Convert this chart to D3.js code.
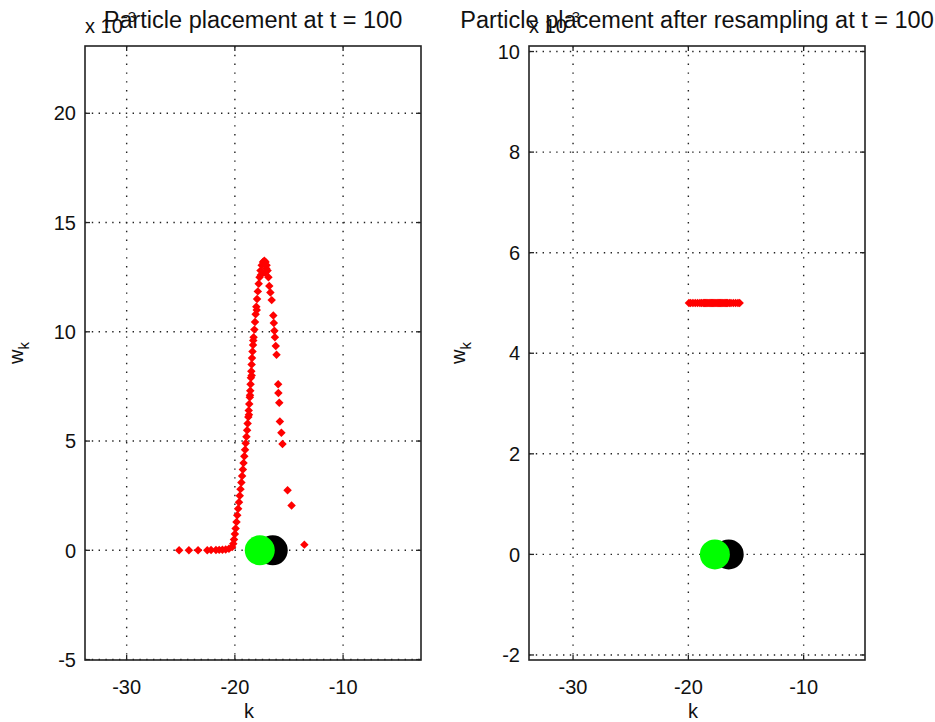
<!DOCTYPE html>
<html>
<head>
<meta charset="utf-8">
<script src="https://cdn.jsdelivr.net/npm/d3@7"></script>
<style>
  body { margin: 0; background: #fff; }
  svg text { font-family: "Liberation Sans", Arial, Helvetica, sans-serif; fill: #111; }
</style>
</head>
<body>
<svg id="chart" width="935" height="722"></svg>
<script>
// particle weights are in units of 10^-3
var particleK = [
  -25.15, -24.25, -23.4, -22.55, -22.2, -21.75, -21.45, -21.15, -20.85, -20.55,
  -20.25, -20.15, -20.08, -20.0, -19.93, -19.85, -19.78, -19.7, -19.62, -19.55,
  -19.48, -19.4, -19.33, -19.26, -19.2, -19.13, -19.06, -19.0, -18.93, -18.87,
  -18.82, -18.76, -18.72, -18.67, -18.62, -18.58, -18.55, -18.52, -18.48, -18.45,
  -18.42, -18.37, -18.32, -18.27, -18.2, -18.14, -18.08, -18.02, -17.95, -17.88,
  -17.8, -17.72, -17.63, -17.52, -17.4, -17.28, -17.17, -17.07, -16.98, -16.9,
  -16.82, -16.72, -18.7, -18.6, -18.45, -18.3, -17.98, -17.6, -17.1, -17.2,
  -16.6, -16.45, -16.4, -16.35, -16.3, -16.22, -16.15, -16.0, -15.98, -15.9,
  -15.84, -15.7, -15.6, -15.13, -14.76, -13.58
];
var particleW = [
  0, 0, 0, 0, 0.01, 0.01, 0.02, 0.03, 0.04, 0.07,
  0.15, 0.3, 0.5, 0.75, 1.0, 1.3, 1.6, 1.9, 2.2, 2.5,
  2.8, 3.1, 3.4, 3.7, 4.0, 4.3, 4.6, 4.9, 5.2, 5.5,
  5.8, 6.1, 6.4, 6.7, 7.0, 7.3, 7.6, 7.9, 8.2, 8.5,
  8.8, 9.1, 9.4, 9.75, 10.1, 10.45, 10.8, 11.15, 11.5, 11.85,
  12.2, 12.5, 12.8, 13.05, 13.2, 13.25, 13.2, 13.05, 12.8, 12.5,
  12.1, 11.8, 6.2, 7.1, 8.0, 9.6, 11.0, 12.6, 12.9, 12.7,
  11.45, 10.75, 10.4, 10.05, 9.75, 9.35, 8.95, 7.6, 7.2, 6.75,
  5.9, 5.38, 4.87, 2.75, 2.05, 0.26
];

// after resampling every particle has weight 1/200
var resampledK = [
  -19.95, -19.8, -19.6, -19.4, -19.2, -19.0, -18.85, -18.7, -18.6, -18.5,
  -18.4, -18.3, -18.2, -18.1, -18.0, -17.9, -17.8, -17.7, -17.6, -17.5,
  -17.4, -17.3, -17.2, -17.1, -17.0, -16.9, -16.8, -16.7, -16.6, -16.45,
  -16.3, -16.1, -15.9, -15.7, -15.55
];
var resampledW = resampledK.map(function() { return 5; });

var trueK = -16.5;    // black
var estimateK = -17.7; // green

var kTicks = [-30, -20, -10];
var wTicksLeft = [-5, 0, 5, 10, 15, 20];
var wTicksRight = [-2, 0, 2, 4, 6, 8, 10];

var kLimitsLeft = [-33.85, -2.8];
var kLimitsRight = [-33.82, -4.68];
var wLimitsLeft = [-5.02, 23.08];
var wLimitsRight = [-2.1, 10.11];

var svg = d3.select("#chart");

function renderPanel(opt) {
  var left = opt.left, top = 46, width = 336, height = 614;

  var g = svg.append("g")
    .attr("transform", "translate(" + left + "," + top + ")");

  var x = d3.scaleLinear().domain(opt.kLim).range([0, width]);
  var y = d3.scaleLinear().domain(opt.wLim).range([height, 0]);

  // dotted grid
  g.selectAll(".vgrid").data(opt.kTicks).enter().append("line")
    .attr("x1", function(d) { return x(d); })
    .attr("x2", function(d) { return x(d); })
    .attr("y1", 0).attr("y2", height)
    .attr("stroke", "#222").attr("stroke-width", 1.4)
    .attr("stroke-dasharray", "1.4,7.4");
  g.selectAll(".hgrid").data(opt.wTicks).enter().append("line")
    .attr("y1", function(d) { return y(d); })
    .attr("y2", function(d) { return y(d); })
    .attr("x1", 0).attr("x2", width)
    .attr("stroke", "#222").attr("stroke-width", 1.4)
    .attr("stroke-dasharray", "1.4,5.4");

  // inside ticks on all four sides
  var tl = 5;
  opt.kTicks.forEach(function(d) {
    g.append("line").attr("x1", x(d)).attr("x2", x(d)).attr("y1", height).attr("y2", height - tl)
      .attr("stroke", "#222").attr("stroke-width", 1.3);
    g.append("line").attr("x1", x(d)).attr("x2", x(d)).attr("y1", 0).attr("y2", tl)
      .attr("stroke", "#222").attr("stroke-width", 1.3);
  });
  opt.wTicks.forEach(function(d) {
    g.append("line").attr("y1", y(d)).attr("y2", y(d)).attr("x1", 0).attr("x2", tl)
      .attr("stroke", "#222").attr("stroke-width", 1.3);
    g.append("line").attr("y1", y(d)).attr("y2", y(d)).attr("x1", width).attr("x2", width - tl)
      .attr("stroke", "#222").attr("stroke-width", 1.3);
  });

  // tick labels
  g.selectAll(".klab").data(opt.kTicks).enter().append("text")
    .attr("x", function(d) { return x(d); })
    .attr("y", height + 34)
    .attr("text-anchor", "middle")
    .style("font-size", "20px")
    .text(function(d) { return d; });
  g.selectAll(".wlab").data(opt.wTicks).enter().append("text")
    .attr("x", -9)
    .attr("y", function(d) { return y(d); })
    .attr("dy", "0.36em")
    .attr("text-anchor", "end")
    .style("font-size", "20px")
    .text(function(d) { return d; });

  // particles
  var diamond = d3.symbol().type(d3.symbolSquare).size(36);
  g.selectAll(".pt").data(d3.zip(opt.pk, opt.pw)).enter().append("path")
    .attr("d", diamond)
    .attr("transform", function(d) { return "translate(" + x(d[0]) + "," + y(d[1]) + ") rotate(45)"; })
    .attr("fill", "#ff0000");

  // true state and estimate
  g.append("circle").attr("cx", x(trueK)).attr("cy", y(0)).attr("r", 15).attr("fill", "#000");
  g.append("circle").attr("cx", x(estimateK)).attr("cy", y(0)).attr("r", 15).attr("fill", "#00ff00");

  // box
  g.append("rect").attr("x", 0).attr("y", 0).attr("width", width).attr("height", height)
    .attr("fill", "none").attr("stroke", "#222").attr("stroke-width", 1.6);

  // labels
  g.append("text")
    .attr("x", width / 2 - 4).attr("y", height + 58)
    .attr("text-anchor", "middle")
    .style("font-size", "20px")
    .text("k");

  var yl = g.append("text")
    .attr("transform", "translate(" + (opt.ylabX - left) + "," + (height / 2) + ") rotate(-90)")
    .attr("text-anchor", "middle")
    .style("font-size", "20px");
  yl.append("tspan").text("w");
  yl.append("tspan").attr("dy", 6).style("font-size", "15px").text("k");

  var ex = g.append("text")
    .attr("x", 0).attr("y", -13)
    .style("font-size", "20px");
  ex.append("tspan").text("x 10");
  ex.append("tspan").attr("dy", -11).style("font-size", "15px").text("-3");

  g.append("text")
    .attr("x", width / 2).attr("y", -18)
    .attr("text-anchor", "middle")
    .style("font-size", "23.5px")
    .text(opt.title);
}

renderPanel({
  left: 85, kLim: kLimitsLeft, wLim: wLimitsLeft, kTicks: kTicks, wTicks: wTicksLeft,
  pk: particleK, pw: particleW, ylabX: 23,
  title: "Particle placement at t = 100"
});
renderPanel({
  left: 529, kLim: kLimitsRight, wLim: wLimitsRight, kTicks: kTicks, wTicks: wTicksRight,
  pk: resampledK, pw: resampledW, ylabX: 465,
  title: "Particle placement after resampling at t = 100"
});
</script>
</body>
</html>
